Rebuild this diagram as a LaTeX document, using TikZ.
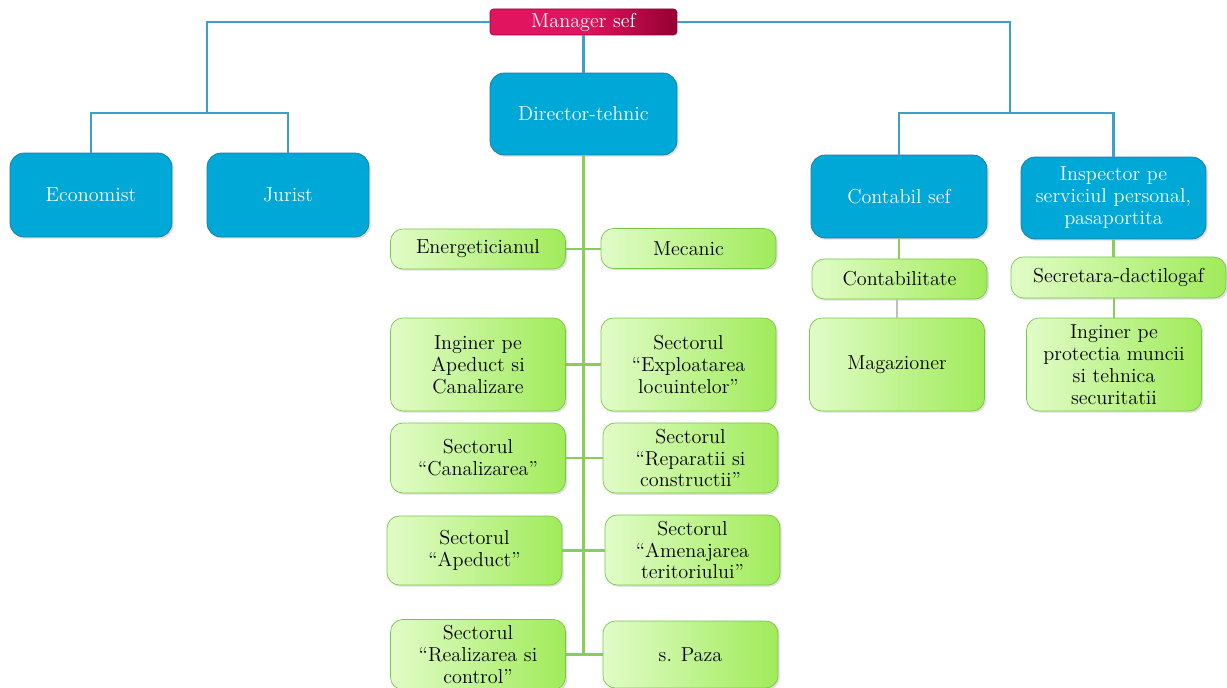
\documentclass[tikz,border=0pt]{standalone}
\usepackage{tikz}
\usetikzlibrary{positioning,shadows}
\definecolor{bluebox}{RGB}{0,168,216}
\definecolor{blueedge}{RGB}{30,120,160}
\definecolor{blueline}{RGB}{60,160,200}
\definecolor{greenlight}{RGB}{225,252,200}
\definecolor{greendark}{RGB}{160,235,90}
\definecolor{greenedge}{RGB}{120,200,70}
\definecolor{greenline}{RGB}{140,205,90}
\definecolor{redleft}{RGB}{225,20,95}
\definecolor{redright}{RGB}{150,0,50}

\begin{document}
\begin{tikzpicture}[x=0.02cm, y=-0.02cm,
      chief/.style={draw=redright, rounded corners=2pt, minimum width=3.74cm, minimum height=0.52cm, left color=redleft, right color=redright, middle color=redleft, text=white, font=\fontsize{11.5}{12.5}\selectfont, inner sep=1pt},
      bluebox/.style={draw=blueedge, fill=bluebox, rounded corners=8pt, text=white, align=center, font=\fontsize{11.5}{12.5}\selectfont, drop shadow={opacity=0.25, shadow xshift=1pt, shadow yshift=-1pt}},
      greenbox/.style={draw=greenedge, rounded corners=7pt, left color=greenlight, right color=greendark, align=center, font=\fontsize{11.5}{12.5}\selectfont, minimum width=3.5cm, drop shadow={opacity=0.25, shadow xshift=1pt, shadow yshift=-1pt}},
      bline/.style={draw=blueline, line width=1.2pt},
      gline/.style={draw=greenline, line width=1.2pt}
    ]
    \useasboundingbox (0,0) rectangle (1227,688);

    % top level
    \node[chief] (manager) at (583.5,22) {Manager sef};
    \node[bluebox, minimum width=3.74cm, minimum height=1.64cm] (director) at (583.5,114) {Director-tehnic};
    \node[bluebox, minimum width=3.24cm, minimum height=1.68cm] (economist) at (91,195) {Economist};
    \node[bluebox, minimum width=3.24cm, minimum height=1.68cm] (jurist) at (288,195) {Jurist};
    \node[bluebox, minimum width=3.52cm, minimum height=1.66cm] (contabil) at (899,196.5) {Contabil sef};
    \node[bluebox, minimum width=3.7cm, minimum height=1.64cm] (inspector) at (1113.5,198) {Inspector pe\\serviciul personal,\\pasaportita};

    % director branch
    \node[greenbox, minimum height=0.8cm] (energ) at (478,249) {Energeticianul};
    \node[greenbox, minimum height=0.8cm] (mecanic) at (688.5,248.5) {Mecanic};
    \node[greenbox, minimum height=1.86cm] (inginer) at (478,364.5) {Inginer pe\\Apeduct si\\Canalizare};
    \node[greenbox, minimum height=1.86cm] (exploat) at (688.5,364.5) {Sectorul\\``Exploatarea\\locuintelor''};
    \node[greenbox, minimum height=1.4cm] (canal) at (478,458) {Sectorul\\``Canalizarea''};
    \node[greenbox, minimum height=1.4cm] (repar) at (690.5,458) {Sectorul\\``Reparatii si\\constructii''};
    \node[greenbox, minimum height=1.38cm] (apeduct) at (474.5,550.5) {Sectorul\\``Apeduct''};
    \node[greenbox, minimum height=1.4cm] (amenaj) at (692.5,550) {Sectorul\\``Amenajarea\\teritoriului''};
    \node[greenbox, minimum height=1.34cm] (realiz) at (478,654.5) {Sectorul\\``Realizarea si\\control''};
    \node[greenbox, minimum height=1.34cm] (paza) at (690.5,654.5) {s. Paza};

    % right branches
    \node[greenbox, minimum height=0.8cm] (contab) at (899.5,279) {Contabilitate};
    \node[greenbox, minimum height=1.86cm] (magaz) at (897,364.5) {Magazioner};
    \node[greenbox, minimum height=0.82cm, minimum width=4.3cm] (secret) at (1118.5,277.5) {Secretara-dactilogaf};
    \node[greenbox, minimum height=1.86cm] (protectia) at (1114,364.5) {Inginer pe\\protectia muncii\\si tehnica\\securitatii};

    % connectors
    \draw[bline] (manager.west) -| (207,113) -| (economist.north);
    \draw[bline] (207,113) -| (jurist.north);
    \draw[bline] (manager.east) -| (1010,113) -| (contabil.north);
    \draw[bline] (1010,113) -| (inspector.north);
    \draw[bline] (manager) -- (director);

    \draw[gline] (director.south) -- (director.south |- realiz.east);
    \draw[gline] (energ.east) -- (energ.east -| mecanic.west);
    \draw[gline] (inginer.east) -- (exploat.west);
    \draw[gline] (canal.east) -- (repar.west);
    \draw[gline] (apeduct.east) -- (apeduct.east -| amenaj.west);
    \draw[gline] (realiz.east) -- (paza.west);

    \draw[gline] (contabil.south) -- (contabil.south |- contab.north);
    \draw[draw=gray!50, line width=0.6pt] (contab.south -| magaz.north) -- (magaz.north);
    \draw[gline] (inspector.south) -- (inspector.south |- secret.north);
    \draw[gline] (secret.south -| protectia.north) -- (protectia.north);
  \end{tikzpicture}
\end{document}
